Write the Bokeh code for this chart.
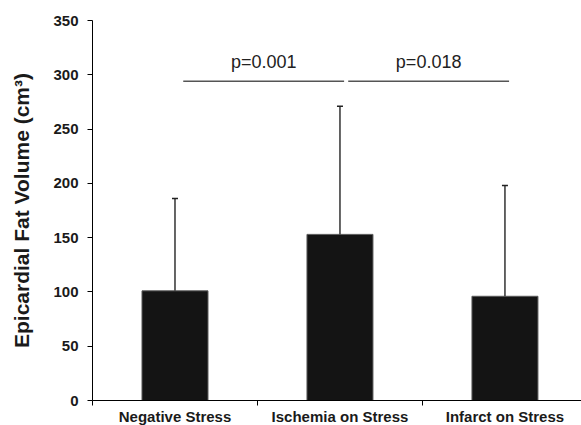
from bokeh.plotting import figure
from bokeh.models import ColumnDataSource, FixedTicker, Range1d
from bokeh.core.properties import value
from bokeh.embed import file_html
from bokeh.resources import INLINE

# ---- data ----
categories = ["Negative Stress", "Ischemia on Stress", "Infarct on Stress"]
means = [101, 153, 96]
upper = [186, 271, 198]          # mean + SD (error bar tops)
y_ticks = [0, 50, 100, 150, 200, 250, 300, 350]
comparisons = [(0, 1, "p=0.001"), (1, 2, "p=0.018")]
p_level = 294

FONT = "Liberation Sans"

centers = [i + 0.5 for i in range(len(categories))]

p = figure(frame_width=489, frame_height=380, output_backend="svg", toolbar_location=None,
           x_range=Range1d(0, 2.964), y_range=Range1d(0, 350),
           min_border_left=92, min_border_top=20, min_border_bottom=20, min_border_right=0)
p.outline_line_color = None
p.grid.grid_line_color = None
p.background_fill_color = "white"
p.border_fill_color = "white"

src = ColumnDataSource(dict(x=centers, top=means, up=upper, cat=categories))

p.vbar(x="x", top="top", bottom=0, width=0.4, source=src,
       fill_color="#141414", line_color="#5a5a5a", line_width=1)
p.segment(x0="x", y0="top", x1="x", y1="up", source=src, line_color="#333333", line_width=1.5)
p.rect(x="x", y="up", width=6, height=1.5, width_units="screen", height_units="screen",
       source=src, fill_color="#222222", line_color=None)

# significance brackets
for a, b, txt in comparisons:
    x0 = centers[a] + 0.05
    x1 = centers[b] + 0.025
    p.segment(x0=[x0], y0=[p_level], x1=[x1], y1=[p_level], line_color="#555555", line_width=1.6)
    p.text(x=[(x0 + x1) / 2], y=[p_level + 12], y_offset=-6, text=[txt], text_align="center",
           text_baseline="alphabetic", text_font=value(FONT), text_font_size="18px",
           text_color="#222222")

# x axis: ticks at category boundaries, labels at category centres
xa = p.xaxis[0]
xa.ticker = FixedTicker(ticks=centers, minor_ticks=[0, 1, 2])
xa.major_label_overrides = {c: name for c, name in zip(centers, categories)}
xa.minor_tick_out = 5
xa.minor_tick_in = 0
xa.major_tick_out = 0
xa.major_tick_in = 0
xa.major_label_standoff = 2
xa.major_label_text_font = FONT
xa.major_label_text_font_size = "15px"
xa.major_label_text_font_style = "bold"
xa.major_label_text_color = "#1a1a1a"
xa.axis_line_color = "black"
xa.minor_tick_line_color = "black"

ya = p.yaxis[0]
ya.ticker = FixedTicker(ticks=y_ticks)
ya.minor_tick_line_color = None
ya.major_tick_out = 5
ya.major_tick_in = 0
ya.major_label_standoff = 9
ya.major_label_text_font = FONT
ya.major_label_text_font_size = "15px"
ya.major_label_text_font_style = "bold"
ya.major_label_text_color = "#1a1a1a"
ya.axis_label = "Epicardial Fat Volume (cm³)"
ya.axis_label_text_font = FONT
ya.axis_label_text_font_size = "21px"
ya.axis_label_text_font_style = "bold"
ya.axis_label_text_color = "#1a1a1a"
ya.axis_label_standoff = 17
ya.axis_line_color = "black"

open("out.html", "w").write(file_html(p, INLINE))
